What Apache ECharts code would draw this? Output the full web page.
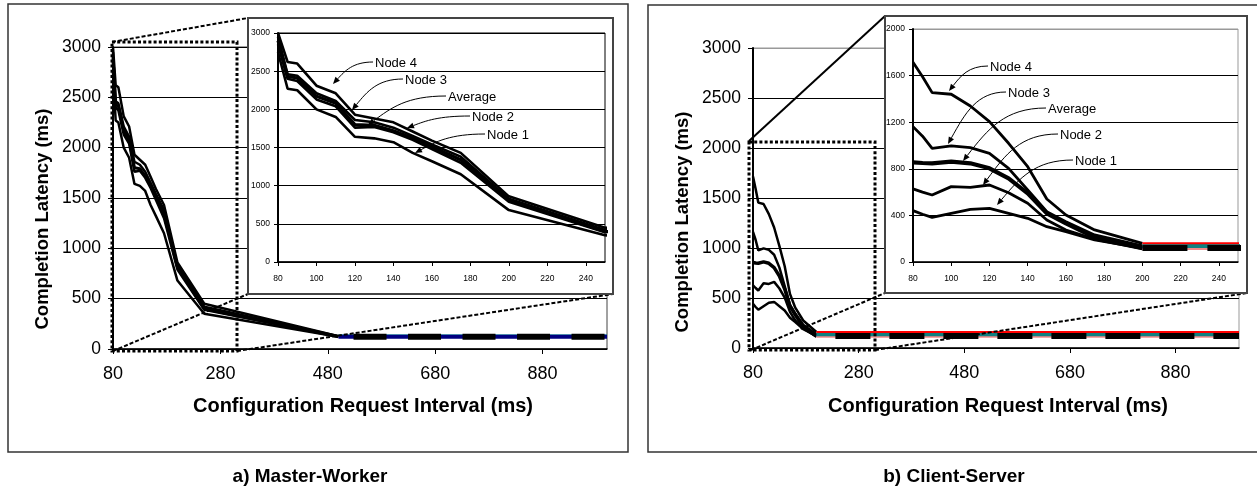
<!DOCTYPE html>
<html>
<head>
<meta charset="utf-8">
<script src="https://cdn.jsdelivr.net/npm/echarts@6/dist/echarts.min.js"></script>
<style>html,body{margin:0;padding:0;background:#fff}#c{width:1257px;height:494px}</style>
</head>
<body>
<div id="c"></div>
<script>
// ---------------- DATA ----------------
// a) Master-Worker
const mwX     = [80, 85, 90, 100, 110, 120, 130, 140, 150, 160, 175, 200, 250, 500, 600, 700, 800, 900, 1000];
const mwNode1 = [2750, 2270, 2250, 2000, 1900, 1640, 1620, 1570, 1430, 1320, 1150, 680, 350, 122, 122, 122, 122, 122, 122];
const mwNode2 = [2850, 2400, 2370, 2130, 2040, 1760, 1770, 1700, 1600, 1480, 1300, 790, 390, 124, 124, 124, 124, 124, 124];
const mwNode3 = [2950, 2460, 2440, 2210, 2110, 1860, 1830, 1760, 1650, 1540, 1380, 830, 420, 126, 126, 126, 126, 126, 126];
const mwNode4 = [3000, 2620, 2600, 2310, 2210, 1930, 1880, 1830, 1710, 1590, 1430, 860, 450, 128, 128, 128, 128, 128, 128];
const mwAvg   = [2900, 2430, 2410, 2170, 2080, 1800, 1790, 1720, 1620, 1510, 1340, 810, 400, 122, 122, 122, 122, 122, 122];
// b) Client-Server
const csX     = [80, 85, 90, 100, 110, 120, 130, 140, 150, 160, 175, 200, 250, 500, 750, 1000];
const csNode1 = [441, 410, 383, 418, 452, 461, 418, 375, 303, 260, 189, 120, 120, 120, 120, 120];
const csNode2 = [627, 600, 575, 647, 641, 661, 595, 504, 361, 275, 197, 112, 112, 112, 112, 112];
const csNode3 = [1162, 1080, 976, 996, 981, 933, 804, 618, 432, 346, 232, 138, 138, 138, 138, 138];
const csNode4 = [1714, 1590, 1454, 1440, 1339, 1205, 1019, 818, 541, 403, 275, 160, 160, 160, 160, 160];
const csAvg   = [855, 850, 847, 861, 847, 804, 718, 589, 418, 332, 212, 120, 120, 120, 120, 120];
const seriesNames = ['Node 1', 'Node 2', 'Node 3', 'Node 4', 'Average'];
const mainXTicks = {min: 80, max: 1000, interval: 200};
const insetXTicks = {min: 80, max: 250, interval: 20};
const mainYTicks = {min: 0, max: 3000, interval: 500};
const mwInsetYTicks = {min: 0, max: 3000, interval: 500};
const csInsetYTicks = {min: 0, max: 2000, interval: 400};

// ---------------- LAYOUT / STYLE ----------------
const FONT = '"Liberation Sans", Arial, Helvetica, sans-serif';
const chart = echarts.init(document.getElementById('c'), null, {renderer: 'canvas', width: 1257, height: 494});
const plain = v => String(v);

function mkGrid(l, t, w, h, border, z) {
  return {left: l, top: t, width: w, height: h, show: true, borderColor: border, borderWidth: 1,
    backgroundColor: 'transparent', containLabel: false, outerBoundsMode: 'none', z: z};
}
const grids = [
  mkGrid(113, 47, 494, 302, '#444', 0),   // main a
  mkGrid(278, 33, 327, 229, '#000', 21),  // inset a
  mkGrid(753, 48, 486, 300, '#999', 0),   // main b
  mkGrid(913, 29, 325, 233, '#999', 21)   // inset b
];

function xAx(gi, t, fs, margin, tickLen, z) {
  return {type: 'value', gridIndex: gi, min: t.min, max: t.max, interval: t.interval, z: z,
    axisLine: {show: true, onZero: false, lineStyle: {color: '#000', width: 1.5}},
    axisTick: {show: true, inside: false, length: tickLen, lineStyle: {color: '#000', width: 1}},
    axisLabel: {show: true, fontSize: fs, color: '#000', fontFamily: FONT, margin: margin,
      showMaxLabel: false, formatter: plain},
    splitLine: {show: false}};
}
function yAx(gi, t, fs, margin, tickLen, lineColors, z) {
  return {type: 'value', gridIndex: gi, min: t.min, max: t.max, interval: t.interval, z: z,
    axisLine: {show: true, lineStyle: {color: '#000', width: 2}},
    axisTick: {show: true, inside: false, length: tickLen, lineStyle: {color: '#000', width: 1}},
    axisLabel: {show: true, fontSize: fs, color: '#000', fontFamily: FONT, margin: margin, formatter: plain},
    splitLine: {show: true, lineStyle: {color: lineColors, width: 1}}};
}
const blk7 = ['#000', '#000', '#000', '#000', '#000', '#000', '#000'];
const xAxes = [
  xAx(0, mainXTicks, 18, 16, 5, 0),
  xAx(1, insetXTicks, 8.5, 12, 4, 21),
  xAx(2, mainXTicks, 18, 16, 5, 0),
  xAx(3, insetXTicks, 8.5, 12, 4, 21)
];
const yAxes = [
  yAx(0, mainYTicks, 17.5, 12, 5, blk7, 0),
  yAx(1, mwInsetYTicks, 8.5, 8, 4, blk7, 21),
  yAx(2, mainYTicks, 17.5, 12, 5, ['#000', '#000', '#000', '#000', '#000', '#000', '#999'], 0),
  yAx(3, csInsetYTicks, 8.5, 8, 4, ['#000', '#000', '#000', '#000', '#000', '#999'], 21)
];

function pairs(xs, ys, pred) {
  return xs.map((x, i) => [x, ys[i]]).filter(p => pred(p[0]));
}

const panels = [
  {xs: mwX, nodes: [mwNode1, mwNode2, mwNode3, mwNode4], avg: mwAvg, split: 500,
   tailColors: ['#000080', '#e070c0', '#008080', '#20a0a0'], tailWidths: [4, 3, 3, 3], tailOrder: [3, 2, 1, 0],
   grids: [{gi: 0, w: 2.5, wa: 3, dash: [33, 21.5], off: 39.5, z: 2},
           {gi: 1, w: 2.6, wa: 3.2, dash: [33, 21.5], off: 0, z: 22}]},
  {xs: csX, nodes: [csNode1, csNode2, csNode3, csNode4], avg: csAvg, split: 200,
   tailColors: ['#000080', '#f08a8a', '#108080', '#ff0000'], tailWidths: [2, 2, 4, 2], tailOrder: [0, 1, 2, 3],
   grids: [{gi: 2, w: 2.5, wa: 3.5, dash: [35, 19], off: 35, z: 2},
           {gi: 3, w: 2.8, wa: 4.2, dash: [45, 20], off: 0, z: 22}]}
];

const series = [];
panels.forEach(p => {
  p.grids.forEach(g => {
    const base = {type: 'line', xAxisIndex: g.gi, yAxisIndex: g.gi, symbol: 'none', showSymbol: false,
      animation: false, silent: true, clip: true};
    p.nodes.forEach((ys, i) => {
      series.push(Object.assign({}, base, {name: seriesNames[i], z: g.z,
        data: pairs(p.xs, ys, x => x <= p.split),
        lineStyle: {color: '#000', width: g.w}}));
    });
    series.push(Object.assign({}, base, {name: seriesNames[4], z: g.z,
      data: pairs(p.xs, p.avg, x => x <= p.split),
      lineStyle: {color: '#000', width: g.wa}}));
    p.tailOrder.forEach(i => {
      series.push(Object.assign({}, base, {name: seriesNames[i] + ' tail', z: g.z + 1,
        data: pairs(p.xs, p.nodes[i], x => x >= p.split),
        lineStyle: {color: p.tailColors[i], width: p.tailWidths[i]}}));
    });
    series.push(Object.assign({}, base, {name: 'Average tail', z: g.z + 2,
      data: pairs(p.xs, p.avg, x => x >= p.split),
      lineStyle: {color: '#000', width: 6, type: g.dash, dashOffset: g.off, cap: 'butt'}}));
  });
});

// ---------------- DECORATION ----------------
function gLine(x1, y1, x2, y2, w, dash, z) {
  return {type: 'line', silent: true, z: z, shape: {x1, y1, x2, y2},
    style: {stroke: '#000', lineWidth: w, lineDash: dash || null}};
}
function gRect(x, y, w, h, stroke, lw, fill, dash, z) {
  return {type: 'rect', silent: true, z: z, shape: {x, y, width: w, height: h},
    style: {stroke: stroke, lineWidth: lw, fill: fill, lineDash: dash || null}};
}
function gText(text, x, y, font, align, rot, z) {
  return {type: 'text', silent: true, z: z || 30, x: x, y: y, rotation: rot || 0,
    style: {text: text, x: 0, y: 0, font: font, fill: '#000', textAlign: align || 'center',
      textVerticalAlign: 'middle', align: align || 'center', verticalAlign: 'middle'}};
}
function gArrow(sx, sy, ex, ey) {
  const dx = sx - ex, dy = ey - sy;
  const c1x = sx - 0.5 * dx, c1y = sy;
  const c2x = ex + 0.3 * dx, c2y = ey - 0.6 * dy;
  let ux = ex - c2x, uy = ey - c2y;
  const L = Math.hypot(ux, uy); ux /= L; uy /= L;
  const len = 7, hw = 3;
  const bx = ex - ux * len, by = ey - uy * len;
  return [
    {type: 'bezierCurve', silent: true, z: 30,
     shape: {x1: sx, y1: sy, x2: bx, y2: by, cpx1: c1x, cpy1: c1y, cpx2: c2x, cpy2: c2y},
     style: {stroke: '#000', lineWidth: 1, fill: null}},
    {type: 'polygon', silent: true, z: 30,
     shape: {points: [[ex, ey], [bx - uy * hw, by + ux * hw], [bx + uy * hw, by - ux * hw]]},
     style: {fill: '#000'}}
  ];
}
// label text, label left x, label y, arrow tip x, arrow tip y
const mwNotes = [['Node 4', 375, 63, 333, 84], ['Node 3', 405, 80, 352, 110], ['Average', 448, 97, 368, 125],
                 ['Node 2', 472, 117, 407, 128], ['Node 1', 487, 135, 415, 153]];
const csNotes = [['Node 4', 990, 67, 949, 91], ['Node 3', 1008, 93, 948, 144], ['Average', 1048, 109, 963, 161],
                 ['Node 2', 1060, 135, 983, 185], ['Node 1', 1075, 161, 997, 205]];

const DOT = [3, 2.2];
const DASH = [4, 2];
const graphics = [
  gRect(8, 4, 620, 448, '#333', 1.5, null, null, 1),
  gRect(648, 5, 620, 447, '#333', 1.5, null, null, 1),
  // zoom boxes and connectors (a)
  gLine(112, 42, 248, 18, 2, DASH, 10),
  gLine(113, 351, 248, 294, 2, DASH, 10),
  gLine(237, 351, 613, 294, 2, DASH, 10),
  gRect(112, 42, 125, 309, '#000', 3, null, DOT, 11),
  // zoom boxes and connectors (b)
  gLine(749, 141, 885, 16, 2, null, 10),
  gLine(751, 350, 885, 293, 2, DASH, 10),
  gLine(875, 350, 1247, 293, 2, DASH, 10),
  gRect(749, 142, 126, 208, '#000', 3, null, DOT, 11),
  // inset boxes
  gRect(248, 18, 365, 276, '#444', 2, '#fff', null, 20),
  gRect(885, 16, 362, 277, '#444', 2, '#fff', null, 20),
  // axis titles
  gText('Completion Latency (ms)', 43, 219, 'bold 18.5px ' + FONT, 'center', Math.PI / 2),
  gText('Configuration Request Interval (ms)', 363, 406, 'bold 20px ' + FONT, 'center'),
  gText('Completion Latency (ms)', 683, 222, 'bold 18.5px ' + FONT, 'center', Math.PI / 2),
  gText('Configuration Request Interval (ms)', 998, 406, 'bold 20px ' + FONT, 'center'),
  // captions
  gText('a) Master-Worker', 310, 477, 'bold 19px ' + FONT, 'center'),
  gText('b) Client-Server', 954, 477, 'bold 19px ' + FONT, 'center')
];
mwNotes.concat(csNotes).forEach(n => {
  graphics.push(gText(n[0], n[1], n[2], '13px ' + FONT, 'left'));
  gArrow(n[1] - 2, n[2] - 1, n[3], n[4]).forEach(e => graphics.push(e));
});

chart.setOption({
  animation: false,
  backgroundColor: '#fff',
  grid: grids,
  xAxis: xAxes,
  yAxis: yAxes,
  series: series,
  graphic: {elements: graphics}
});
</script>
</body>
</html>
